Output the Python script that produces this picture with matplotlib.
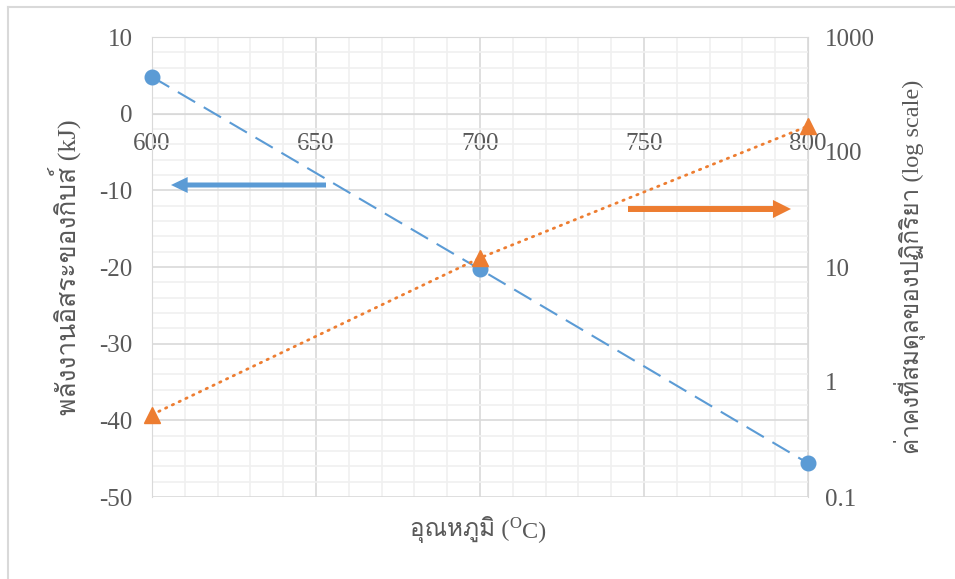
import matplotlib
matplotlib.use('Agg')
import matplotlib.pyplot as plt
import matplotlib.font_manager as fm
from matplotlib.ft2font import FT2Font
from matplotlib.ticker import MultipleLocator, FixedLocator, FixedFormatter

# data
temps = [600, 700, 800]
gibbs_kj = [4.8, -20.3, -45.6]
k_eq = [0.52, 12.0, 168.0]

x_ticks = [600, 650, 700, 750, 800]
k_ticks = [0.1, 1, 10, 100, 1000]
k_tick_labels = ['0.1', '1', '10', '100', '1000']

blue = '#5B9BD5'
orange = '#ED7D31'
text_gray = '#595959'

# find some installed font that has thai glyphs
thai_font = 'DejaVu Sans'
for entry in fm.fontManager.ttflist:
    try:
        if 0x0E01 in FT2Font(entry.fname).get_charmap():
            thai_font = entry.name
            break
    except Exception:
        pass

plt.rcParams['font.family'] = ['Liberation Serif', thai_font, 'DejaVu Sans']
plt.rcParams['axes.unicode_minus'] = False

W, H, dpi = 955, 579, 100
fig = plt.figure(figsize=(W / dpi, H / dpi), dpi=dpi)

# outer frame of the excel chart (cut on right and bottom)
fig.add_artist(plt.Line2D([8 / W, 8 / W], [0, 1 - 7 / H], color='#D9D9D9', lw=1.5))
fig.add_artist(plt.Line2D([8 / W, 1], [1 - 7 / H, 1 - 7 / H], color='#D9D9D9', lw=1.5))

ax = fig.add_axes([152 / W, 1 - 497 / H, 656 / W, 460 / H])
ax.set_xlim(600, 800)
ax.set_ylim(-50, 10)

ax.xaxis.set_major_locator(FixedLocator(x_ticks))
ax.xaxis.set_minor_locator(MultipleLocator(10))
ax.yaxis.set_major_locator(MultipleLocator(10))
ax.yaxis.set_minor_locator(MultipleLocator(2))
ax.grid(which='minor', color='#F0F0F0', lw=1.2)
ax.grid(which='major', color='#D9D9D9', lw=1.2)
ax.set_axisbelow(True)

for side in ['left', 'right', 'top']:
    ax.spines[side].set_color('#D9D9D9')
ax.spines['bottom'].set_position(('data', 0))
ax.spines['bottom'].set_color('#D9D9D9')
ax.tick_params(which='both', length=0)
ax.tick_params(axis='x', pad=14, labelsize=18, labelcolor=text_gray)
ax.tick_params(axis='y', pad=14, labelsize=18, labelcolor=text_gray)

ax.plot(temps, gibbs_kj, color=blue, lw=1.5, dashes=(9.6, 4.8), marker='o', markersize=10.5,
        clip_on=False, zorder=3)

ax2 = ax.twinx()
ax2.set_yscale('log')
ax2.set_ylim(0.1, 1000)
ax2.yaxis.set_major_locator(FixedLocator(k_ticks))
ax2.yaxis.set_major_formatter(FixedFormatter(k_tick_labels))
ax2.yaxis.set_minor_locator(FixedLocator([]))
ax2.tick_params(which='both', length=0, pad=12, labelsize=18, labelcolor=text_gray)
for side in ax2.spines:
    ax2.spines[side].set_visible(False)
ax2.plot(temps, k_eq, color=orange, lw=2, linestyle=(0, (0.5, 2.2)), dash_capstyle='round',
         marker='^', markersize=12, clip_on=False, zorder=3)

# arrows pointing to the axis of each series
ax.annotate('', xy=(171 / W, 1 - 185 / H), xytext=(326 / W, 1 - 185 / H),
            xycoords='figure fraction', textcoords='figure fraction',
            arrowprops=dict(arrowstyle='simple,head_length=1.2,head_width=1.15,tail_width=0.36',
                            mutation_scale=10, lw=0, color=blue, shrinkA=0, shrinkB=0))
ax.annotate('', xy=(791 / W, 1 - 209 / H), xytext=(628 / W, 1 - 209 / H),
            xycoords='figure fraction', textcoords='figure fraction',
            arrowprops=dict(arrowstyle='simple,head_length=1.3,head_width=1.3,tail_width=0.43',
                            mutation_scale=10, lw=0, color=orange, shrinkA=0, shrinkB=0))

# axis titles
fig.text(64 / W, 1 - 267 / H, 'พลังงานอิสระของกิบส์ (kJ)', rotation=90, ha='center', va='center',
         fontsize=19, color=text_gray)
fig.text(910 / W, 1 - 267 / H, 'ค่าคงที่สมดุลของปฏิกิริยา (log scale)', rotation=90, ha='center',
         va='center', fontsize=17.5, color=text_gray)

t1 = fig.text(509 / W, 1 - 536 / H, 'อุณหภูมิ (', ha='right', va='baseline', fontsize=17.5,
              color=text_gray)
t2 = ax.annotate('O', xy=(1, 0), xycoords=t1, xytext=(0.5, 8), textcoords='offset points',
                 ha='left', va='bottom', fontsize=12, color=text_gray)
ax.annotate('C)', xy=(1, 0), xycoords=(t2, t1), xytext=(0.5, 0), textcoords='offset points',
            ha='left', va='bottom', fontsize=17.5, color=text_gray)

plt.savefig('out.png', dpi=dpi)
